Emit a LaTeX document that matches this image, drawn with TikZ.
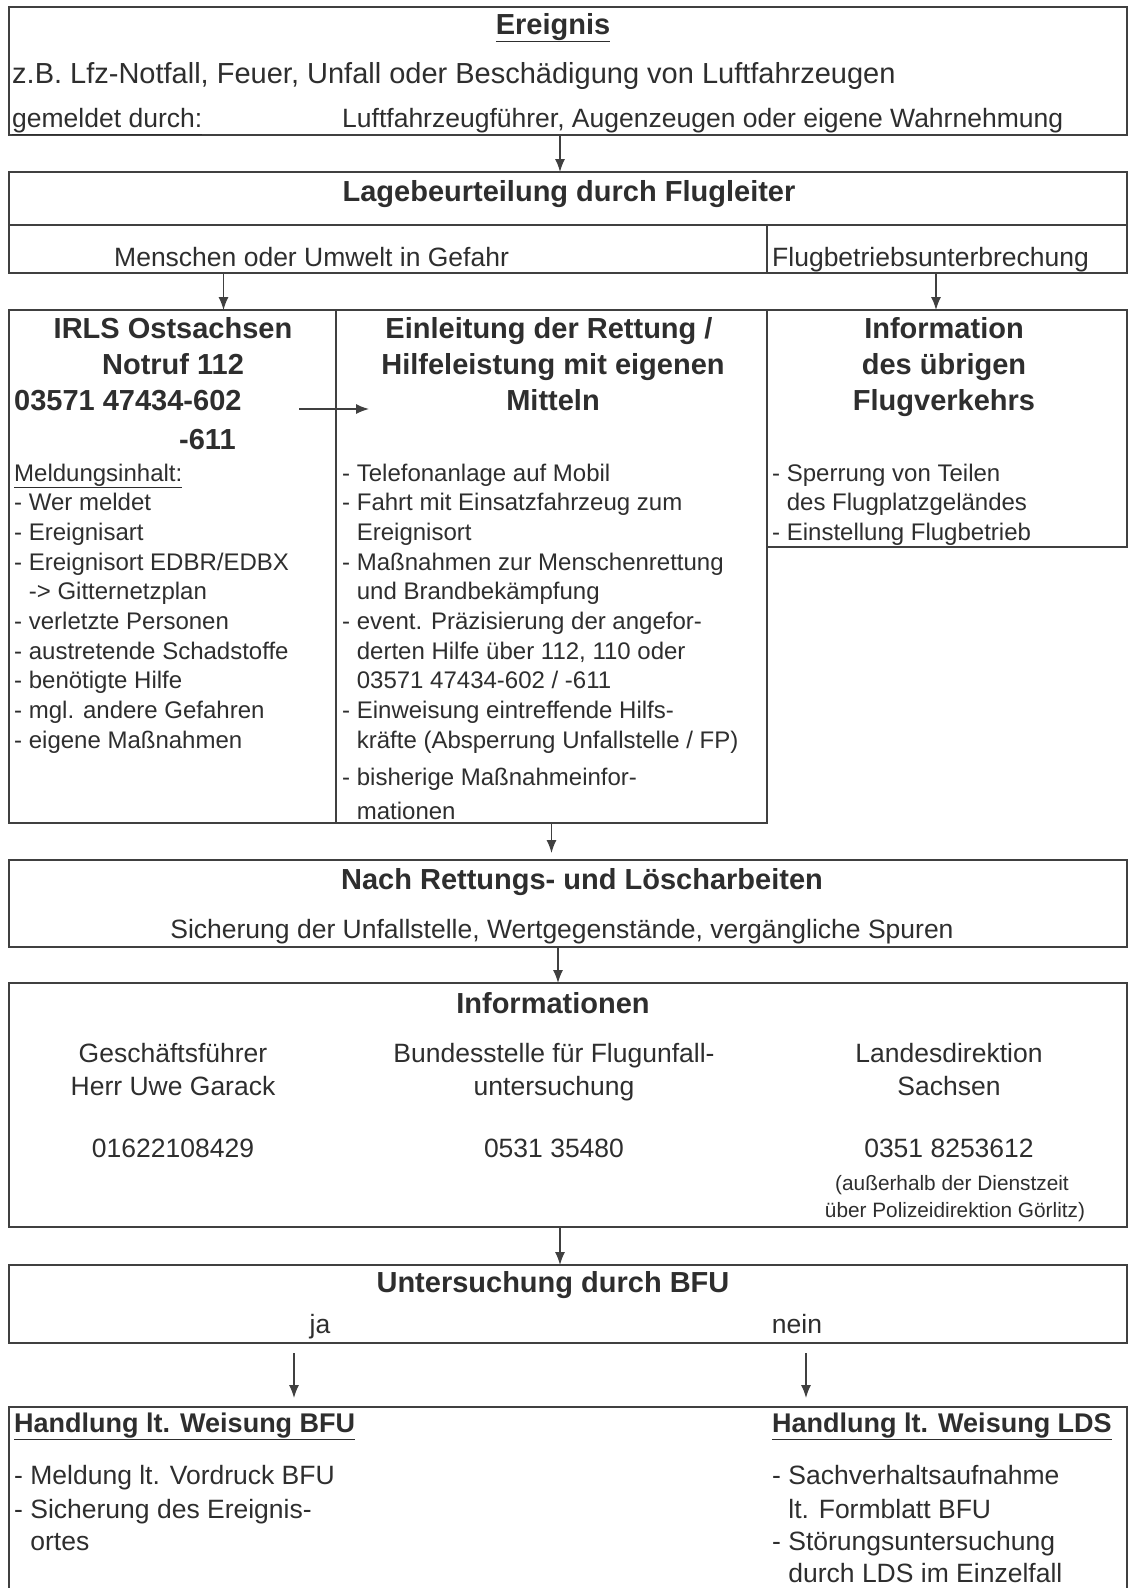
\documentclass[tikz,border=0pt]{standalone}
\usepackage{fontspec}
\setmainfont{Liberation Sans}
\usetikzlibrary{arrows.meta}
\definecolor{ink}{gray}{0.18}
\definecolor{lin}{gray}{0.25}
\newcommand{\einr}{\phantom{- }}

\tikzset{
  box/.style={draw=lin, line width=2pt, anchor=north west, inner sep=0pt, outer sep=0pt},
  head/.style={font=\fontsize{29}{34}\selectfont\bfseries, text=ink, anchor=base, inner sep=0pt},
  txt/.style={font=\fontsize{26.5}{30}\selectfont, text=ink, anchor=base west, inner sep=0pt},
  ctxt/.style={txt, anchor=base},
  lst/.style={font=\fontsize{24}{28}\selectfont, text=ink, anchor=base west, inner sep=0pt},
  klein/.style={font=\fontsize{20.8}{24}\selectfont, text=ink, anchor=base, inner sep=0pt},
  arr/.style={draw=lin, line width=1.4pt, -{Latex[length=13pt,width=10pt]}}
}

\begin{document}
\begin{tikzpicture}[x=1pt,y=-1pt]

    \fill[white] (0,0) rectangle (1129,1588);
    \useasboundingbox (0,0) rectangle (1129,1588);

    % boxes
    \node[box, minimum width=1118pt, minimum height=128pt] (ereig) at (9,7) {};
    \node[box, minimum width=1118pt, minimum height=53pt] (lage) at (9,172) {};
    \node[box, minimum width=758pt, minimum height=48pt] (gefahr) at (9,225) {};
    \node[box, minimum width=360pt, minimum height=48pt] (unterbr) at (767,225) {};
    \node[box, minimum width=327pt, minimum height=513pt] (irls) at (9,310) {};
    \node[box, minimum width=431pt, minimum height=513pt] (rett) at (336,310) {};
    \node[box, minimum width=360pt, minimum height=237pt] (flugv) at (767,310) {};
    \node[box, minimum width=1118pt, minimum height=87pt] (nach) at (9,860) {};
    \node[box, minimum width=1118pt, minimum height=244pt] (infos) at (9,983) {};
    \node[box, minimum width=1118pt, minimum height=78pt] (unters) at (9,1265) {};
    \node[box, minimum width=1118pt, minimum height=193pt] (handl) at (9,1407) {};

    % Ereignis
    \node[head] (ereignis) at (553,34) {\underline{Ereignis}};
    \node[txt, font=\fontsize{29}{34}\selectfont] (zb) at (12,83) {z.B. Lfz-Notfall, Feuer, Unfall oder Beschädigung von Luftfahrzeugen};
    \node[txt] (gemeldet) at (12,127) {\underline{gemeldet durch:}};
    \node[txt] (melder) at (342,127) {Luftfahrzeugführer, Augenzeugen oder eigene Wahrnehmung};

    % Lagebeurteilung
    \node[head] (lagetxt) at (569,201) {Lagebeurteilung durch Flugleiter};
    \node[txt] (menschen) at (114,266) {Menschen oder Umwelt in Gefahr};
    \node[txt] (unterbrtxt) at (772,266) {Flugbetriebsunterbrechung};

    % IRLS
    \node[head] (irls1) at (173,338) {IRLS Ostsachsen};
    \node[head] (irls2) at (173,374) {Notruf 112};
    \node[head, anchor=base west] (irls3) at (14,410) {03571 47434-602};
    \node[head, anchor=base west] (irls4) at (179,449) {-611};
    \foreach \zeile [count=\i from 0] in {{\underline{Meldungsinhalt:}}, {- Wer meldet}, {- Ereignisart},
        {- Ereignisort EDBR/EDBX}, {\einr-> Gitternetzplan}, {- verletzte Personen},
        {- austretende Schadstoffe}, {- benötigte Hilfe}, {- mgl. andere Gefahren}, {- eigene Maßnahmen}}
    \node[lst] (mld\i) at (14,{481+29.7*\i}) {\zeile};

    % Rettung
    \node[head] (rett1) at (549,338) {Einleitung der Rettung /};
    \node[head] (rett2) at (553,374) {Hilfeleistung mit eigenen};
    \node[head] (rett3) at (553,410) {Mitteln};
    \foreach \zeile [count=\i from 0] in {{- Telefonanlage auf Mobil}, {- Fahrt mit Einsatzfahrzeug zum},
        {\einr Ereignisort}, {- Maßnahmen zur Menschenrettung}, {\einr und Brandbekämpfung},
        {- event. Präzisierung der angefor-}, {\einr derten Hilfe über 112, 110 oder},
        {\einr 03571 47434-602 / -611}, {- Einweisung eintreffende Hilfs-},
        {\einr kräfte (Absperrung Unfallstelle / FP)}}
    \node[lst] (mass\i) at (342,{481+29.7*\i}) {\zeile};
    \node[lst] (mass10) at (342,785) {- bisherige Maßnahmeinfor-};
    \node[lst] (mass11) at (342,819) {\einr mationen};

    % Flugverkehr
    \node[head] (flugv1) at (944,338) {Information};
    \node[head] (flugv2) at (944,374) {des übrigen};
    \node[head] (flugv3) at (944,410) {Flugverkehrs};
    \node[lst] (sperr1) at (772,481) {- Sperrung von Teilen};
    \node[lst] (sperr2) at (772,510.7) {\einr des Flugplatzgeländes};
    \node[lst] (sperr3) at (772,540.4) {- Einstellung Flugbetrieb};

    % Nach Rettungs- und Loescharbeiten
    \node[head] (nachtxt) at (582,889) {Nach Rettungs- und Löscharbeiten};
    \node[ctxt] (sicher) at (562,938) {Sicherung der Unfallstelle, Wertgegenstände, vergängliche Spuren};

    % Informationen
    \node[head] (infotxt) at (553,1013) {Informationen};
    \node[ctxt] (gf1) at (173,1062) {Geschäftsführer};
    \node[ctxt] (gf2) at (173,1095) {Herr Uwe Garack};
    \node[ctxt] (gf3) at (173,1157) {01622108429};
    \node[ctxt] (bfu1) at (554,1062) {Bundesstelle für Flugunfall-};
    \node[ctxt] (bfu2) at (554,1095) {untersuchung};
    \node[ctxt] (bfu3) at (554,1157) {0531 35480};
    \node[ctxt] (lds1) at (949,1062) {Landesdirektion};
    \node[ctxt] (lds2) at (949,1095) {Sachsen};
    \node[ctxt] (lds3) at (949,1157) {0351 8253612};
    \node[klein] (lds4) at (952,1190) {(außerhalb der Dienstzeit};
    \node[klein] (lds5) at (955,1217) {über Polizeidirektion Görlitz)};

    % Untersuchung
    \node[head] (unterstxt) at (553,1292) {Untersuchung durch BFU};
    \node[ctxt] (ja) at (320,1333) {ja};
    \node[ctxt] (nein) at (797,1333) {nein};

    % Handlung
    \node[head, font=\fontsize{27}{32}\selectfont\bfseries, anchor=base west] (hbfu) at (14,1432) {\underline{Handlung lt. Weisung BFU}};
    \node[head, font=\fontsize{27}{32}\selectfont\bfseries, anchor=base west] (hlds) at (772,1432) {\underline{Handlung lt. Weisung LDS}};
    \node[txt] (hbfu1) at (14,1484) {- Meldung lt. Vordruck BFU};
    \node[txt] (hbfu2) at (14,1518) {- Sicherung des Ereignis-};
    \node[txt] (hbfu3) at (14,1550) {\einr ortes};
    \node[txt] (hlds1) at (772,1484) {- Sachverhaltsaufnahme};
    \node[txt] (hlds2) at (772,1518) {\einr lt. Formblatt BFU};
    \node[txt] (hlds3) at (772,1550) {- Störungsuntersuchung};
    \node[txt] (hlds4) at (772,1582) {\einr durch LDS im Einzelfall};

    % arrows
    \coordinate (ps) at (299,409);
    \coordinate (jaarr) at (294,1343);
    \coordinate (neinarr) at (806,1343);
    \draw[arr] ([xshift=-8pt]ereig.south) -- ([xshift=-8pt]lage.north);
    \draw[arr] ([xshift=51pt]irls.north |- gefahr.south) -- ([xshift=51pt]irls.north);
    \draw[arr] ([xshift=-11pt]unterbr.south) -- ([xshift=-11pt]flugv.north);
    \draw[arr] (ps) -- ([xshift=33pt]ps -| rett.west);
    \draw[arr, shorten >=7pt] (rett.south) -- (rett.south |- nach.north);
    \draw[arr] ([xshift=-10pt]nach.south) -- ([xshift=-10pt]infos.north);
    \draw[arr] ([xshift=-8pt]infos.south) -- ([xshift=-8pt]unters.north);
    \draw[arr, shorten <=10pt, shorten >=9pt] (jaarr) -- (jaarr |- handl.north);
    \draw[arr, shorten <=10pt, shorten >=9pt] (neinarr) -- (neinarr |- handl.north);

\end{tikzpicture}
\end{document}
